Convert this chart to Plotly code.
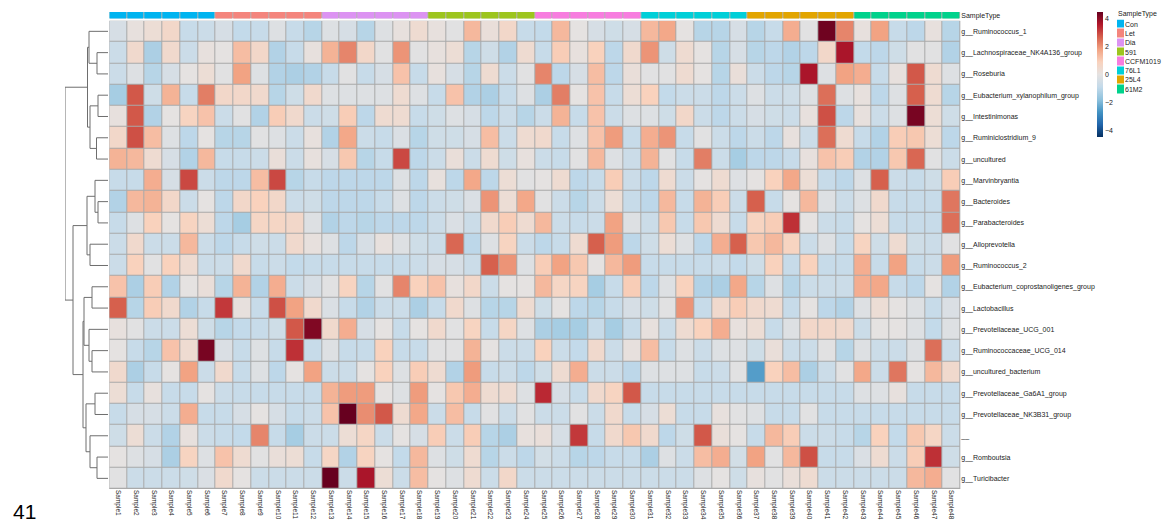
import plotly.graph_objects as go

W, H = 1167, 524

samples = [f"Sample{i}" for i in range(1, 49)]
groups = ["Con", "Let", "Dia", "591", "CCFM1019", "76L1", "25L4", "61M2"]
group_colors = ["#00b4f0", "#f4857d", "#dc93f2", "#9dc51e", "#f77ddf", "#00cfd8", "#e2a500", "#00d28c"]
sample_group = [g for g in groups for _ in range(6)]

genera = [
    "g__Ruminococcus_1", "g__Lachnospiraceae_NK4A136_group", "g__Roseburia",
    "g__Eubacterium_xylanophilum_group", "g__Intestinimonas", "g__Ruminiclostridium_9",
    "g__uncultured", "g__Marvinbryantia", "g__Bacteroides", "g__Parabacteroides",
    "g__Alloprevotella", "g__Ruminococcus_2", "g__Eubacterium_coprostanoligenes_group",
    "g__Lactobacillus", "g__Prevotellaceae_UCG_001", "g__Ruminococcaceae_UCG_014",
    "g__uncultured_bacterium", "g__Prevotellaceae_Ga6A1_group", "g__Prevotellaceae_NK3B31_group",
    "__", "g__Romboutsia", "g__Turicibacter",
]

r_ruminococcus_1 = [-0.4, 0.1, 0.3, 0.6, -0.8, -0.7, -0.4, -0.9, -0.8, -0.2, -0.8,
                    -1.1, -0.2, -0.4, -1.1, -0.2, 0.1, 0.4, 0.1, -0.1, 1.4, 0.2, 0.6,
                    -0.8, -0.9, 1.4, 0.0, -0.4, -0.6, -0.4, 1.4, 1.7, 0.0, -1.1, -1.1, -0.4,
                    -1.1, -0.8, 1.6, -0.1, 4.4, 2.2, 0.1, 1.8, -0.8, -1.0, 0.1, -1.1]
r_lachno = [-0.7, 0.5, -1.3, 0.5, -0.7, 0.1, 0.0, 1.3, 0.6, -1.2, -0.8,
            0.1, 1.5, 2.2, 0.6, -0.1, 2.0, -0.1, 0.1, 0.3, -1.1, -0.6, -1.2,
            0.4, -0.8, 1.0, 0.1, 0.9, -1.0, 0.5, 2.0, -0.6, 0.4, 0.0, -1.1, -0.4,
            -1.1, -1.0, -1.2, -1.0, 0.6, 3.7, -0.9, -1.0, -0.6, -0.1, -0.1, -1.2]
r_roseburia = [-0.7, -0.2, -1.1, -0.4, 0.0, 0.3, -0.1, 1.8, -0.2, -1.2, -1.3,
               -1.2, -0.8, -0.1, -0.8, -0.4, 1.2, -0.8, 0.1, -0.4, -1.1, 0.4, -0.7,
               -0.1, 2.2, -1.0, -0.4, 1.3, -1.0, 0.2, -0.1, -0.1, 0.4, 0.0, -1.1, 0.2,
               -0.7, -1.0, -1.1, 3.7, -0.2, 1.8, 1.6, -0.8, 0.1, 2.8, 0.4, -0.2]
r_eub_xylan = [-1.4, 2.8, -0.6, 1.5, -0.8, 2.3, 0.6, 0.6, 0.5, -1.1, -0.6,
               0.5, -0.2, -0.2, -0.2, -0.2, 0.4, -0.2, -0.8, 1.2, -1.2, -1.3, -0.8,
               -0.2, -1.3, 2.3, 0.0, 1.2, -0.8, 0.3, 0.9, -0.9, -0.7, -0.7, -1.0, -0.7,
               -0.2, -0.7, -0.6, -0.2, 2.5, -0.2, 0.1, -1.0, -0.2, 2.7, 0.4, -1.1]
r_intestinimonas = [0.1, 2.8, -1.2, 0.0, 0.8, 1.2, -0.7, -0.1, -1.2, 1.0, 0.5,
                    -0.7, -0.6, 1.0, -1.0, 0.4, 0.4, -0.8, -0.6, -0.2, -0.4, -1.0, -0.7,
                    -1.1, -0.7, 1.5, -0.8, 1.2, -0.7, -0.2, -0.2, -0.6, 0.6, -0.7, -1.0, -0.7,
                    -0.4, -0.6, -0.7, 0.1, 2.9, -1.0, 0.1, -0.7, -0.2, 4.3, 0.3, -0.6]
r_ruminiclostridium = [0.6, 2.9, 1.3, -0.2, -1.0, 0.0, -1.1, -1.1, -0.1, -0.2, -0.7,
                       0.1, -1.2, 1.7, -0.7, -0.8, -0.3, -1.1, -0.6, -0.6, -0.4, 1.3, -0.7,
                       0.4, 0.5, -0.8, -0.2, 1.2, 1.9, -0.8, 1.6, 2.0, -0.8, -0.1, -0.7, -1.0,
                       -0.7, -1.0, 0.1, -0.7, 2.5, 0.4, -0.8, -1.2, 1.0, 1.1, 0.3, -1.0]
r_uncultured = [1.5, 1.4, 0.4, -0.4, -1.2, 1.4, -0.8, -0.8, -0.7, 0.2, -0.7,
                0.1, -0.4, 1.1, -1.1, -0.8, 3.0, -1.0, -0.7, 0.2, -0.7, 0.4, -0.6,
                0.1, -0.7, -0.8, -0.1, 1.4, -0.2, -0.7, 1.5, -0.1, -0.8, 2.3, -0.7, -1.4,
                -1.0, -1.0, -0.8, 0.1, 1.2, 1.0, -1.2, -1.2, 1.1, 2.6, -0.1, -0.7]
r_marvinbryantia = [-0.8, -0.8, 1.6, -0.4, 3.0, -0.7, -1.0, -1.0, 1.3, 3.0, -1.1,
                    -0.8, -1.0, -1.0, -1.0, -1.0, -0.2, -1.0, 0.1, -1.0, 1.7, -1.0, 0.3,
                    -0.1, 0.0, 0.4, -1.0, -0.8, 1.0, -0.7, -1.0, 0.4, -0.7, 0.0, 0.4, -0.2,
                    0.0, 0.9, 1.7, 0.3, -0.8, -1.0, -0.2, 2.7, -0.7, -0.8, -0.6, 1.0]
r_bacteroides = [-1.2, 1.4, 1.5, 0.6, -0.7, 0.0, -1.0, 0.6, 0.9, 0.6, -0.7,
                 -0.6, -1.0, -1.0, -1.0, -0.8, -0.2, -1.0, -0.7, -0.6, -0.3, 2.0, 0.3,
                 1.7, -0.1, -0.7, -1.1, -0.7, 0.3, -0.8, -1.0, 1.4, -0.8, 1.5, 1.0, -0.7,
                 2.7, -0.8, 0.0, 1.4, -0.2, -0.7, -0.2, 0.5, -0.8, -0.8, -0.8, 2.4]
r_parabacteroides = [-0.8, -0.2, 0.9, 0.0, 0.8, 0.3, -1.0, -1.4, 0.7, 0.7, 0.6,
                     -0.2, -1.2, -1.0, -1.1, -1.0, -1.0, -1.0, -0.7, -0.3, -0.7, 0.5, 1.0,
                     0.4, 1.4, -0.7, -0.8, -0.7, 1.8, -0.2, -0.7, 1.1, -0.8, 1.1, 0.4, -0.8,
                     0.8, 1.0, 3.3, 0.0, -0.7, -0.8, 0.0, 0.3, -0.8, -0.8, -0.8, 2.5]
r_alloprevotella = [-0.7, 0.5, -0.7, -0.7, 1.4, -0.7, -1.0, -0.8, -0.6, -0.7, 0.5,
                    0.1, -0.2, -1.0, -0.4, 0.1, -0.2, -0.6, -0.7, 2.6, -1.0, -0.2, 0.8,
                    -0.7, -1.0, -0.8, 0.4, 2.7, 1.9, -1.0, -0.6, 0.3, -0.2, -1.0, 1.6, 2.7,
                    1.1, 1.4, 0.8, -0.7, -0.2, -0.8, 0.8, -0.6, 0.4, -0.6, -0.7, -0.1]
r_ruminococcus_2 = [-0.7, 0.9, -0.1, 0.9, 0.4, -0.7, -0.7, 0.5, -0.8, -0.7, -0.9,
                    -0.8, -0.8, -0.8, -0.8, -0.8, -0.8, -0.7, -0.4, -0.4, -0.7, 2.7, 2.0,
                    -0.2, 1.0, 1.8, 1.1, 0.0, 1.4, 1.9, -0.8, -0.8, -0.8, -0.8, -0.7, -0.9,
                    -0.6, 0.9, -0.8, 0.9, -0.8, -0.8, 1.6, -0.8, 1.8, -0.8, -0.7, 1.9]
r_eub_copro = [1.2, -1.3, 1.0, -1.2, 0.0, 0.2, -1.1, 1.5, -1.2, 1.6, -0.7,
               -0.4, -0.1, 0.8, -1.1, -0.1, 2.2, 0.9, 1.2, 0.1, 0.6, -0.7, 0.0,
               0.0, 1.4, 0.7, 0.8, -1.4, -0.8, 1.0, -1.0, -0.2, 0.9, -1.2, -1.3, 1.7,
               -1.1, -0.2, -1.1, -0.7, -0.7, -0.7, 1.6, 1.7, -0.8, -1.0, 0.0, -1.2]
r_lactobacillus = [2.7, -1.1, 1.0, 0.5, -1.2, -0.8, 3.2, 0.1, -0.8, 2.9, 1.8,
                   0.5, -0.3, -0.8, -1.2, -0.7, -0.7, -1.3, -0.8, 0.5, -0.2, -1.1, -1.1,
                   0.4, -0.6, 0.0, -1.0, -1.1, -0.8, -0.4, -0.6, -0.1, 2.0, -0.8, 0.5, 1.0,
                   0.5, 0.4, -0.8, 0.0, -1.0, -1.2, -0.2, 0.3, 0.0, -0.2, -0.8, -0.3]
r_prev_ucg001 = [0.1, -0.1, -0.7, -0.7, 0.3, -0.6, -1.1, -0.9, -0.8, -0.6, 2.8,
                 4.2, 0.5, 1.6, -0.4, 0.0, -0.8, 0.0, 0.5, -0.1, 0.8, -0.8, 0.7,
                 -0.2, -1.3, -1.4, -1.4, -0.8, -1.4, -0.8, 0.1, -0.7, 0.4, 0.9, 1.6, 0.1,
                 0.3, -0.8, -0.2, 0.6, 0.6, 0.5, -0.7, 0.0, 0.0, -0.2, -0.9, -0.2]
r_rumino_ucg014 = [0.0, -0.8, -1.1, 1.2, 0.4, 4.3, -0.3, -0.8, -0.2, -0.8, 3.3,
                   -0.8, -0.2, -0.8, -0.8, 0.9, -0.8, -0.8, -0.1, -0.1, 1.5, 0.0, -0.7,
                   -0.7, 0.9, -0.7, -0.9, 0.5, -0.7, 0.1, 1.3, -0.8, -0.2, -0.7, -0.2, -0.2,
                   -0.6, 0.2, -0.7, -0.7, -0.1, -1.1, -0.2, -0.7, -0.7, -0.2, 2.5, -0.7]
r_uncult_bact = [0.5, -1.3, -0.8, 0.0, 1.8, -0.7, 0.5, -0.8, -0.2, -1.0, 0.0,
                 1.8, -0.7, -0.7, 0.0, 0.9, -0.2, 1.0, 0.4, -1.2, 1.9, -0.8, -0.7,
                 -1.0, -0.6, 0.4, 1.6, -0.7, -0.7, -1.0, -0.2, -0.2, -0.2, -0.8, -0.7, -0.1,
                 -2.5, 0.9, 1.3, -1.3, -0.7, -0.1, 1.7, -0.7, 2.4, 0.0, 1.4, 0.5]
r_prev_ga6a1 = [0.3, -0.8, 0.1, -0.8, -0.8, 0.0, -0.7, -0.8, -0.8, -0.8, -0.8,
                -0.8, 1.5, 1.9, 1.9, 0.0, -0.2, 1.9, 0.0, 1.1, 1.6, 0.4, 0.4,
                -0.2, 3.4, -0.4, -0.8, 0.5, 0.8, 2.8, -0.8, -0.8, -0.8, -0.8, -0.8, -0.8,
                -0.8, -0.8, -0.8, -0.8, -0.8, -0.8, -0.2, -0.2, 0.1, -0.8, -0.8, -0.8]
r_prev_nk3b31 = [-0.8, -0.4, -0.4, -0.7, 1.6, -0.8, -0.8, -0.4, 0.0, -0.4, -0.8,
                 -0.7, 1.2, 4.6, 2.1, 2.8, 0.4, 1.7, -0.7, 1.3, -0.8, -0.1, -0.7,
                 -0.1, -0.7, -0.7, -0.1, -0.7, 0.5, -0.8, -0.4, 0.3, -0.8, -0.8, 0.1, -0.1,
                 -0.2, -0.8, -0.8, -0.1, -0.8, -0.8, -0.8, -0.8, -0.8, -0.8, -0.8, -0.8]
r_blank = [-0.6, 0.3, -0.7, -1.2, 0.1, -0.7, -0.8, -0.9, 2.2, -0.8, -1.4,
           -0.7, -0.7, 0.3, 0.7, -0.7, 0.0, -0.4, 1.0, -0.7, 1.0, -1.1, -1.3,
           0.1, 0.2, -0.4, 3.2, -0.8, 0.5, 1.1, 0.5, -1.0, -0.6, 2.8, 0.2, 0.0,
           -0.8, 1.4, 1.0, -0.7, -0.7, -0.8, -1.1, 0.9, -0.9, 1.1, 0.7, -0.7]
r_romboutsia = [0.0, -0.2, -0.4, -1.3, 0.8, -0.2, 1.2, 0.4, -0.1, 0.2, 0.3,
                -0.8, 0.7, -1.2, 0.8, 0.0, -0.9, 1.4, -0.2, -0.6, 0.4, -1.1, -0.7,
                -1.0, -0.5, -0.7, -1.1, -1.0, -0.8, -0.8, -1.3, -0.2, -0.7, 1.3, 1.6, -0.5,
                1.8, -0.1, 1.4, 2.9, -0.8, -0.8, -0.3, 0.4, -0.7, 1.0, 3.3, -0.6]
r_turicibacter = [-0.1, -0.7, -0.7, -0.7, -0.6, -0.3, 0.5, 0.0, -0.7, -0.7, -0.7,
                  -0.7, 4.8, -0.7, 3.7, 0.3, -0.7, 1.3, 0.0, -0.2, 0.4, -0.7, 0.6,
                  -0.7, -0.7, -0.7, -0.7, -0.7, -0.7, -0.7, -0.7, -0.7, -0.7, -0.2, 0.0, -0.6,
                  0.1, -0.1, 0.2, 0.4, -0.7, -0.7, -0.7, -0.7, -0.7, 1.4, 1.6, -0.1]

values = [r_ruminococcus_1, r_lachno, r_roseburia, r_eub_xylan, r_intestinimonas,
          r_ruminiclostridium, r_uncultured, r_marvinbryantia, r_bacteroides,
          r_parabacteroides, r_alloprevotella, r_ruminococcus_2, r_eub_copro,
          r_lactobacillus, r_prev_ucg001, r_rumino_ucg014, r_uncult_bact,
          r_prev_ga6a1, r_prev_nk3b31, r_blank, r_romboutsia, r_turicibacter]

# row dendrogram: [left, right, height]; ints are row indices
row_tree = [
    [[0, [1, 2, 11], 19], [[3, 4, 10], [5, 6, 11.5], 18], 20.5],
    [[[7, [8, 9, 10], 13], [10, 11, 18], 21],
     [[[12, 13, 16], [14, [15, 16, 16], 19], 24],
      [[17, 18, 13], [19, [20, 21, 11], 18], 22], 25], 35],
    43,
]

colorbar_ticks = [-4, -2, 0, 2, 4]
zlim = 4.5

# ---------------- geometry (pixels) ----------------
hx0, hx1 = 109.3, 960.3
hy0, hy1 = 20.7, 489.0
ay0, ay1 = 12.0, 18.5
dx0 = 65.0


def px(x):
    return x / W


def py(y):
    return 1 - y / H


font_family = "Liberation Sans, Arial, sans-serif"
label_color = "#222222"

rdbu = [[0.0, '#053061'], [0.1, '#2166ac'], [0.2, '#4393c3'], [0.3, '#8fc2dd'],
        [0.4, '#c3daea'], [0.5, '#e5e2e1'], [0.6, '#f9d2bd'], [0.7, '#f2a383'],
        [0.8, '#d6604d'], [0.9, '#b2182b'], [1.0, '#67001f']]

nG = len(groups)
cat_scale = []
for k, c in enumerate(group_colors):
    lo = max(0.0, (k - 0.5) / (nG - 1))
    hi = min(1.0, (k + 0.5) / (nG - 1))
    cat_scale += [[lo, c], [hi, c]]

nrow, ncol = len(genera), len(samples)
fig = go.Figure()

# main heatmap
fig.add_trace(go.Heatmap(
    z=values, x=list(range(ncol)), y=list(range(nrow)),
    colorscale=rdbu, zmin=-zlim, zmax=zlim, xgap=1, ygap=1,
    xaxis="x", yaxis="y",
    colorbar=dict(x=px(1097), xanchor="left", y=py(12), yanchor="top",
                  len=125 / H, lenmode="fraction", thickness=6, thicknessmode="pixels",
                  tickvals=colorbar_ticks, ticks="", outlinewidth=0, xpad=0, ypad=0,
                  tickfont=dict(size=7, family=font_family, color=label_color)),
))

# annotation bar
grp_idx = [groups.index(g) for g in sample_group]
fig.add_trace(go.Heatmap(
    z=[grp_idx], x=list(range(ncol)), y=[0], colorscale=cat_scale, zmin=0, zmax=nG - 1,
    showscale=False, xgap=1, xaxis="x2", yaxis="y2", hoverinfo="skip",
))

# legend blocks
fig.add_trace(go.Heatmap(
    z=[[k] for k in range(nG)], x=[0], y=list(range(nG)), colorscale=cat_scale,
    zmin=0, zmax=nG - 1, showscale=False, ygap=1, xaxis="x4", yaxis="y4", hoverinfo="skip",
))

# dendrogram
seg_x, seg_y = [], []


def walk(node):
    if isinstance(node, int):
        return float(node), 0.0
    left, right, h = node
    y1, h1 = walk(left)
    y2, h2 = walk(right)
    seg_x.extend([h1, h, h, h2, None])
    seg_y.extend([y1, y1, y2, y2, None])
    return (y1 + y2) / 2, h


walk(row_tree)
root_h = row_tree[2]
fig.add_trace(go.Scatter(x=seg_x, y=seg_y, mode="lines", line=dict(color="#6e6e6e", width=1),
                         xaxis="x3", yaxis="y3", hoverinfo="skip", showlegend=False))

# grey backgrounds giving cell borders
fig.add_shape(type="rect", xref="x", yref="y", x0=-0.5, x1=ncol - 0.5, y0=-0.5, y1=nrow - 0.5,
              fillcolor="#a9a9a9", line=dict(color="#a9a9a9", width=1), layer="below")
fig.add_shape(type="rect", xref="x2", yref="y2", x0=-0.5, x1=ncol - 0.5, y0=-0.5, y1=0.5,
              fillcolor="#b5b5b5", line=dict(width=0), layer="below")

ax_common = dict(showgrid=False, zeroline=False, showline=False)
tick_font = dict(size=7, family=font_family, color=label_color)
col_font = dict(size=6.5, family=font_family, color=label_color)

fig.update_layout(
    width=W, height=H, margin=dict(l=0, r=0, t=0, b=0),
    paper_bgcolor="white", plot_bgcolor="rgba(0,0,0,0)", showlegend=False,
    xaxis=dict(domain=[px(hx0), px(hx1)], range=[-0.5, ncol - 0.5], tickmode="array",
               tickvals=list(range(ncol)), ticktext=samples, tickangle=90, ticks="",
               tickfont=col_font, anchor="y", **ax_common),
    yaxis=dict(domain=[py(hy1), py(hy0)], range=[nrow - 0.5, -0.5], tickmode="array",
               tickvals=list(range(nrow)), ticktext=genera, side="right", ticks="",
               tickfont=tick_font, anchor="x", **ax_common),
    xaxis2=dict(domain=[px(hx0), px(hx1)], range=[-0.5, ncol - 0.5], showticklabels=False,
                anchor="y2", **ax_common),
    yaxis2=dict(domain=[py(ay1), py(ay0)], range=[-0.5, 0.5], tickmode="array", tickvals=[0],
                ticktext=["SampleType"], side="right", ticks="", tickfont=tick_font,
                anchor="x2", **ax_common),
    xaxis3=dict(domain=[px(dx0), px(hx0 - 1.3)], range=[root_h, 0], showticklabels=False,
                anchor="y3", **ax_common),
    yaxis3=dict(domain=[py(hy1), py(hy0)], range=[nrow - 0.5, -0.5], showticklabels=False,
                anchor="x3", **ax_common),
    xaxis4=dict(domain=[px(1117), px(1124)], range=[-0.5, 0.5], showticklabels=False,
                anchor="y4", **ax_common),
    yaxis4=dict(domain=[py(94), py(19.5)], range=[nG - 0.5, -0.5], tickmode="array",
                tickvals=list(range(nG)), ticktext=groups, side="right", ticks="",
                tickfont=tick_font, anchor="x4", **ax_common),
    annotations=[
        dict(text="SampleType", x=px(1116), y=py(14), xref="paper", yref="paper",
             xanchor="left", yanchor="middle", showarrow=False, font=tick_font),
        dict(text="41", x=px(11), y=py(511), xref="paper", yref="paper",
             xanchor="left", yanchor="middle", showarrow=False,
             font=dict(size=21, family=font_family, color="black")),
    ],
)

fig.write_html("out.html", config={"displayModeBar": False, "staticPlot": True},
               post_script="document.body.style.margin='0px';document.body.style.overflow='hidden';")
